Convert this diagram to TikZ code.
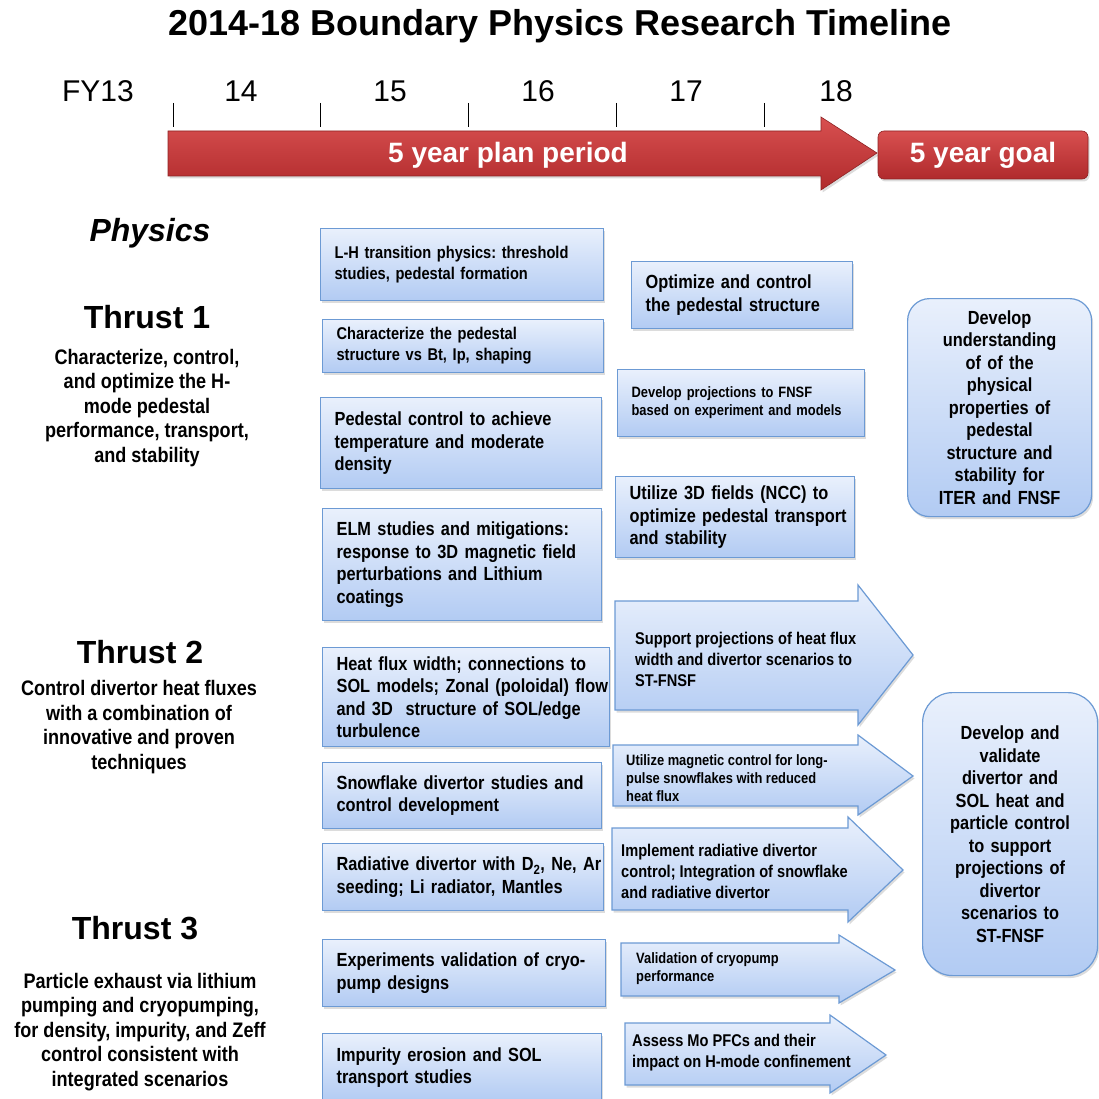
\documentclass[tikz,border=0pt]{standalone}
\usepackage{fontspec}
\setmainfont{Liberation Sans}
\newfontfamily\narrowsans{Liberation Sans}[FakeStretch=0.86]
\usetikzlibrary{shadows}

\definecolor{boxtop}{RGB}{233,240,252}
\definecolor{boxbot}{RGB}{178,203,243}
\definecolor{boxline}{RGB}{108,154,212}
\definecolor{redtop}{RGB}{216,80,80}
\definecolor{redbot}{RGB}{176,42,44}

\tikzset{
  softshadow/.style={drop shadow={opacity=0.28,shadow xshift=1.5pt,shadow yshift=-2.5pt}},
  pbox/.style={draw=boxline,line width=1.2pt,top color=boxtop,bottom color=boxbot,softshadow,
    anchor=north west,inner xsep=14pt,inner ysep=0pt,align=left},
  gbox/.style={pbox,anchor=north west,align=center,inner xsep=4pt},
  flowarrow/.style={draw=boxline,line width=1.2pt,top color=boxtop,bottom color=boxbot,softshadow,line join=miter},
  redshape/.style={top color=redtop,bottom color=redbot,draw=redbot!80!black,line width=0.6pt,softshadow},
  txtA/.style={font=\narrowsans\bfseries\fontsize{19}{22.5}\selectfont},
  txtB/.style={font=\narrowsans\bfseries\fontsize{17}{21}\selectfont},
  txtC/.style={font=\narrowsans\bfseries\fontsize{15}{18}\selectfont},
  arrowtxt/.style={anchor=west,align=left,inner sep=0pt},
  yearlbl/.style={font=\fontsize{30}{32}\selectfont},
  thrusthead/.style={font=\bfseries\fontsize{32}{36}\selectfont},
  thrustdesc/.style={font=\narrowsans\bfseries\fontsize{21}{24.5}\selectfont,align=center},
}

\begin{document}
\frenchspacing
\begin{tikzpicture}[x=1pt,y=-1pt]
  \useasboundingbox (0,0) rectangle (1098,1099);

  % title and time axis
  \node[font=\bfseries\fontsize{36}{40}\selectfont] (title) at (560,26) {2014-18 Boundary Physics Research Timeline};
  \node[yearlbl] (fy13) at (98,91) {FY13};
  \foreach \x/\yr in {241/14,390/15,538/16,686/17,836/18}
    \node[yearlbl] (yr\yr) at (\x,91) {\yr};
  \foreach \t in {173,320,468,616,764}
    \draw[line width=1pt] (\t,103) -- (\t,127);

  \draw[redshape] (168,131) -- (821,131) -- (821,117) -- (877,153) -- (821,190) -- (821,176) -- (168,176) -- cycle;
  \node[text=white,font=\bfseries\fontsize{28}{30}\selectfont] (plan) at (508,155) {5 year plan period};
  \node[redshape,rounded corners=6pt,minimum width=210pt,minimum height=48pt,
        text=white,font=\bfseries\fontsize{28}{30}\selectfont] (goal) at (983,155) {5 year goal};

  % left column
  \node[font=\bfseries\itshape\fontsize{32}{36}\selectfont] (physics) at (150,233) {Physics};
  \node[thrusthead] (thr1) at (147,317) {Thrust 1};
  \node[thrustdesc] (thr1d) at (147,408) {Characterize, control,\\and optimize the H-\\mode pedestal\\performance, transport,\\and stability};
  \node[thrusthead] (thr2) at (140,652) {Thrust 2};
  \node[thrustdesc] (thr2d) at (139,727) {Control divertor heat fluxes\\with a combination of\\innovative and proven\\techniques};
  \node[thrusthead] (thr3) at (135,928) {Thrust 3};
  \node[thrustdesc] (thr3d) at (140,1032) {Particle exhaust via lithium\\pumping and cryopumping,\\for density, impurity, and Zeff\\control consistent with\\integrated scenarios};

  % research boxes
  \node[pbox,txtB,text width=255pt,minimum height=72pt] (lhtrans) at (320,228) {L-H transition physics: threshold\\studies, pedestal formation};
  \node[pbox,txtB,text width=253pt,minimum height=53pt] (pedchar) at (322,319) {Characterize the pedestal\\structure vs Bt, Ip, shaping};
  \node[pbox,txtA,text width=253pt,minimum height=91pt] (pedctrl) at (320,397) {Pedestal control to achieve\\temperature and moderate\\density};
  \node[pbox,txtA,text width=251pt,minimum height=112pt] (elm) at (322,508) {ELM studies and mitigations:\\response to 3D magnetic field\\perturbations and Lithium\\coatings};
  \node[pbox,txtA,text width=259pt,minimum height=99pt] (heatflux) at (322,647) {Heat flux width; connections to\\\mbox{SOL models; Zonal (poloidal) flow}\\and 3D\ \ structure of SOL/edge\\turbulence};
  \node[pbox,txtA,text width=251pt,minimum height=66pt] (snowfl) at (322,762) {Snowflake divertor studies and\\control development};
  \node[pbox,txtA,text width=253pt,minimum height=67pt] (raddiv) at (322,843) {\mbox{Radiative divertor with D\textsubscript{2}, Ne, Ar}\\seeding; Li radiator, Mantles};
  \node[pbox,txtA,text width=255pt,minimum height=67pt] (cryo) at (322,939) {\mbox{Experiments validation of cryo-}\\pump designs};
  \node[pbox,txtA,text width=251pt,minimum height=68pt] (impur) at (322,1033) {Impurity erosion and SOL\\transport studies};

  \node[pbox,txtA,text width=193pt,minimum height=67pt] (pedopt) at (631,261) {Optimize and control\\the pedestal structure};
  \node[pbox,txtC,text width=219pt,minimum height=67pt] (fnsfproj) at (617,369) {Develop projections to FNSF\\based on experiment and models};
  \node[pbox,txtA,text width=211pt,minimum height=81pt] (ncc) at (615,476) {Utilize 3D fields (NCC) to\\\mbox{optimize pedestal transport}\\and stability};

  % arrows toward the divertor goal
  \draw[flowarrow] (615,601) -- (858,601) -- (858,585) -- (913,655) -- (858,725) -- (858,710) -- (615,710) -- cycle;
  \node[arrowtxt,txtB] (stfnsf) at (635,659) {Support projections of heat flux\\width and divertor scenarios to\\ST-FNSF};
  \draw[flowarrow] (613,745) -- (858,745) -- (858,735) -- (913,776) -- (858,815) -- (858,806) -- (613,806) -- cycle;
  \node[arrowtxt,txtC] (longpulse) at (626,778) {Utilize magnetic control for long-\\pulse snowflakes with reduced\\heat flux};
  \draw[flowarrow] (612,828) -- (848,828) -- (848,817) -- (903,870) -- (848,922) -- (848,910) -- (612,910) -- cycle;
  \node[arrowtxt,txtB] (radctrl) at (621,871) {Implement radiative divertor\\control; Integration of snowflake\\and radiative divertor};
  \draw[flowarrow] (621,943) -- (839,943) -- (839,935) -- (895,970) -- (839,1003) -- (839,996) -- (621,996) -- cycle;
  \node[arrowtxt,txtC] (cryoval) at (636,969) {Validation of cryopump\\performance};
  \draw[flowarrow] (625,1023) -- (830,1023) -- (830,1015) -- (886,1055) -- (830,1093) -- (830,1085) -- (625,1085) -- cycle;
  \node[arrowtxt,txtB] (mopfc) at (632,1053) {Assess Mo PFCs and their\\impact on H-mode confinement};

  % five year goals
  \node[gbox,txtA,rounded corners=22pt,text width=176pt,minimum height=218pt] (pedgoal) at (907,298)
    {Develop\\understanding\\of of the\\physical\\properties of\\pedestal\\structure and\\stability for\\ITER and FNSF};
  \node[gbox,txtA,rounded corners=30pt,text width=167pt,minimum height=283pt] (divgoal) at (922,692)
    {Develop and\\validate\\divertor and\\SOL heat and\\particle control\\to support\\projections of\\divertor\\scenarios to\\ST-FNSF};
\end{tikzpicture}
\end{document}
